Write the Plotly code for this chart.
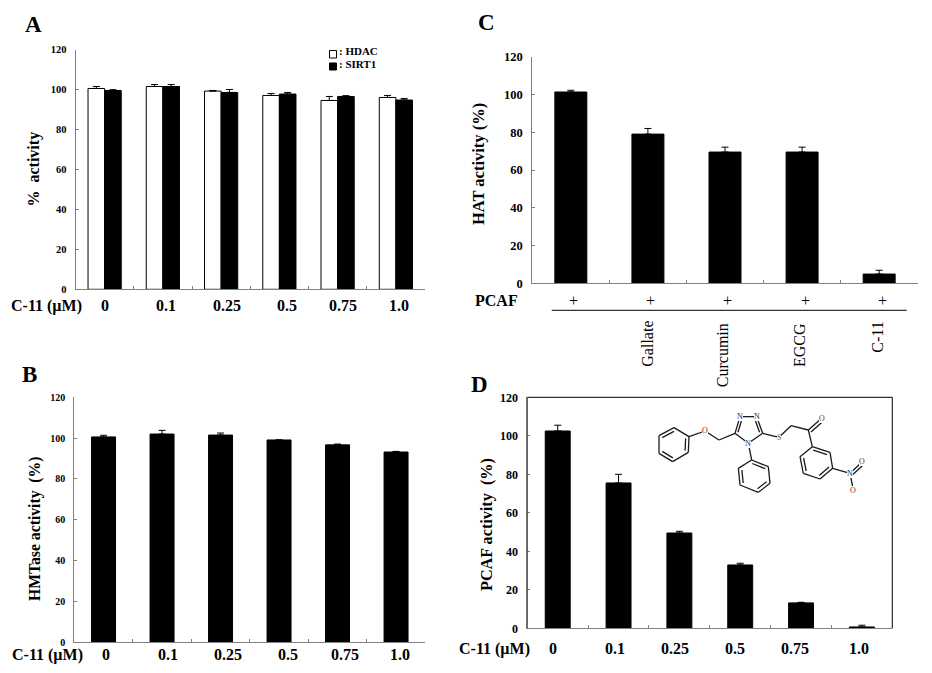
import plotly.graph_objects as go

W, H = 932, 673
FONT = "Liberation Serif"
GRAY = "#808080"

# ---------- data ----------
conc_labels = ["0", "0.1", "0.25", "0.5", "0.75", "1.0"]
hdac = [100.5, 101.5, 99.2, 97.0, 94.5, 96.0]
hdac_err = [1.0, 1.0, 0.3, 1.0, 2.0, 1.0]
sirt1 = [99.5, 101.5, 98.5, 97.7, 96.5, 94.7]
sirt1_err = [0.4, 1.0, 1.5, 0.8, 0.4, 0.8]
hmtase = [100.6, 102.0, 101.5, 99.1, 96.7, 93.2]
hmtase_err = [0.8, 1.8, 1.0, 0.0, 0.4, 0.3]
hat_labels = ["PCAF", "Gallate", "Curcumin", "EGCG", "C-11"]
hat = [101.3, 79.0, 69.5, 69.5, 4.9]
hat_err = [0.9, 3.0, 2.6, 2.6, 2.0]
pcaf = [102.5, 75.5, 49.5, 32.9, 13.2, 0.7]
pcaf_err = [3.0, 4.5, 0.9, 0.9, 0.3, 0.9]
y_ticks = [0, 20, 40, 60, 80, 100, 120]

# ---------- layout helpers (pixel -> paper) ----------
px = lambda x: x / W
py = lambda y: 1 - y / H
annotations, shapes = [], []

def text(x, y, s, size, bold=True, angle=0, color="black", xanchor="center", bg=None):
    annotations.append(dict(
        x=px(x), y=py(y), xref="paper", yref="paper", showarrow=False,
        text=f"<b>{s}</b>" if bold else s, textangle=angle, xanchor=xanchor, yanchor="middle",
        font=dict(family=FONT, size=size, color=color), borderpad=0, borderwidth=0,
        bgcolor=bg, align="center"))

def seg(x0, y0, x1, y1, color="black", width=1.0):
    shapes.append(dict(type="line", xref="paper", yref="paper", x0=px(x0), y0=py(y0),
                       x1=px(x1), y1=py(y1), line=dict(color=color, width=width)))

fig = go.Figure()

def bar(values, errs, cats, n, color="black", name=None, width=None):
    fig.add_trace(go.Bar(
        x=cats, y=values, name=name, xaxis=f"x{n}", yaxis=f"y{n}", width=width,
        marker=dict(color=color, line=dict(color="black", width=1)),
        error_y=dict(type="data", symmetric=False, array=errs, arrayminus=[0] * len(errs),
                     color="black", thickness=1, width=3.5),
        showlegend=False))

bar(hdac, hdac_err, conc_labels, 1, "white", "HDAC")
bar(sirt1, sirt1_err, conc_labels, 1, "black", "SIRT1")
bar(hmtase, hmtase_err, conc_labels, 2, width=0.41, name="HMTase")
bar(hat, hat_err, hat_labels, 3, width=0.415, name="HAT")
bar(pcaf, pcaf_err, conc_labels, 4, width=0.41, name="PCAF")

layout = dict(template="none", width=W, height=H, autosize=False, margin=dict(l=0, r=0, t=0, b=0, pad=0),
              paper_bgcolor="white", plot_bgcolor="white", barmode="group",
              bargap=0.43, bargroupgap=0, showlegend=False,
              font=dict(family=FONT, color="black"))

panels = {1: (75.5, 425, 49.5, 289.3, 10.5), 2: (74.3, 425.3, 397.3, 642.3, 10),
          3: (532.3, 917.7, 56.7, 283.3, 12.5), 4: (527.3, 892.3, 397.3, 628.3, 12)}
for n, (l, r, t, b, fs) in panels.items():
    suffix = "" if n == 1 else str(n)
    layout[f"xaxis{suffix}"] = dict(
        domain=[px(l), px(r)], anchor=f"y{suffix}", type="category", range=[-0.5, (4.5 if n == 3 else 5.5)],
        tickson="boundaries", ticks="inside", ticklen=3, tickcolor=GRAY, tickwidth=1, automargin=False,
        showticklabels=False, showgrid=False, zeroline=False, showline=True, linecolor=GRAY, linewidth=1)
    layout[f"yaxis{suffix}"] = dict(
        domain=[py(b), py(t)], anchor=f"x{suffix}", range=[0, 120], tickvals=y_ticks, automargin=False,
        ticks="inside", ticklen=3, tickcolor=GRAY, tickwidth=1, showgrid=False, zeroline=False,
        showline=True, linecolor=GRAY, linewidth=1, ticklabelstandoff=6,
        tickfont=dict(family=FONT, size=fs, color="black", weight="bold"))

# ---------- panel letters ----------
text(33.5, 25, "A", 23); text(29.5, 374, "B", 23)
text(487, 23, "C", 23); text(479, 384, "D", 23)

# ---------- y titles ----------
text(33.5, 169, "%&nbsp;&nbsp;activity", 16, angle=-90)
text(35, 529, "HMTase activity&nbsp;&nbsp;(%)", 15.7, angle=-90)
text(478, 164, "HAT activity (%)", 16.5, angle=-90)
text(487, 524, "PCAF activity&nbsp;&nbsp;(%)", 16.2, angle=-90)

# ---------- x labels ----------
for x, s in zip([104.5, 166, 227, 287, 343, 399], conc_labels):
    text(x, 306, s, 16)
text(46, 306, "C-11 (µM)", 16)
for x, s in zip([106, 168, 228, 288, 344.5, 400], conc_labels):
    text(x, 654.5, s, 16)
text(47, 654.5, "C-11 (µM)", 16)
for x, s in zip([553, 615, 675, 735, 795, 859], conc_labels):
    text(x, 648.5, s, 16)
text(494, 648.5, "C-11 (µM)", 16)

# ---------- panel C treatment block ----------
text(496.7, 300.5, "PCAF", 16)
for x in [573.3, 650, 727.3, 805.3, 882.3]:
    text(x, 300.5, "+", 16, bold=False)
seg(551.7, 310.3, 906.7, 310.3)
for x, y, s in zip([646.7, 722.7, 800, 876.7], [344, 355.5, 345, 337], hat_labels[1:]):
    text(x, y, s, 16, bold=False, angle=-90)

# ---------- panel A legend ----------
shapes.append(dict(type="rect", xref="paper", yref="paper", x0=px(329.5), x1=px(336.5), y0=py(58), y1=py(50.5),
                   line=dict(color="black", width=1), fillcolor="white"))
shapes.append(dict(type="rect", xref="paper", yref="paper", x0=px(329.5), x1=px(336.5), y0=py(70), y1=py(63),
                   line=dict(color="black", width=1), fillcolor="black"))
text(339, 51, ": HDAC", 11, xanchor="left")
text(339, 64, ": SIRT1", 11, xanchor="left")

# ---------- panel D frame ----------
seg(527.3, 397.3, 892.3, 397.3)
seg(892.3, 397.3, 892.3, 628.3)
seg(527.3, 397.3, 527.3, 628.3, color="#404040")

# ---------- panel D structure drawing ----------
mx = lambda X: 650 + X / 3
my = lambda Y: 405 + Y / 3
def bond(a, b, offset=None):
    seg(mx(a[0]), my(a[1]), mx(b[0]), my(b[1]), color="#1a1a1a", width=1.3)

def ring(pts, doubles):
    cx = sum(p[0] for p in pts) / len(pts)
    cy = sum(p[1] for p in pts) / len(pts)
    for i in range(len(pts)):
        a, b = pts[i], pts[(i + 1) % len(pts)]
        bond(a, b)
        if i in doubles:
            f = 0.78
            bond((cx + (a[0] - cx) * f, cy + (a[1] - cy) * f), (cx + (b[0] - cx) * f, cy + (b[1] - cy) * f))

ring([(27, 92), (72, 68), (117, 95), (115, 142), (68, 170), (27, 145)], [0, 2, 4])
ring([(305, 165), (355, 185), (360, 235), (325, 262), (270, 240), (265, 190)], [0, 2, 4])
ring([(487, 125), (540, 142), (548, 190), (510, 222), (460, 205), (450, 155)], [0, 2, 4])
ring([(255, 85), (270, 35), (320, 35), (338, 85), (295, 115)], [0, 2])
for a, b in [((117, 95), (165, 78)), ((165, 78), (207, 105)), ((207, 105), (255, 85)),
             ((295, 115), (305, 165)), ((338, 85), (387, 97)), ((387, 97), (423, 62)),
             ((423, 62), (475, 75)), ((475, 75), (487, 125)), ((548, 190), (600, 205)),
             ((600, 205), (610, 255))]:
    bond(a, b)
for a, b in [((475, 75), (515, 40)), ((483, 81), (521, 47)), ((600, 205), (637, 170)), ((606, 211), (643, 177))]:
    bond(a, b)
for X, Y, s, c in [(165, 78, "O", "#8b1a1a"), (270, 35, "N", "#20206e"), (320, 35, "N", "#20206e"),
                   (295, 115, "N", "#20206e"), (387, 97, "S", "#555533"), (515, 40, "O", "#8b1a1a"),
                   (600, 205, "N", "#20206e"), (637, 170, "O", "#8b1a1a"), (610, 255, "O", "#8b1a1a")]:
    text(mx(X), my(Y), s, 8, bold=False, color=c, bg="white")

fig.update_layout(**layout, annotations=annotations, shapes=shapes)
fig.write_html("out.html", config=dict(displayModeBar=False),
               post_script="document.body.style.margin='0';document.body.style.overflow='hidden';")
